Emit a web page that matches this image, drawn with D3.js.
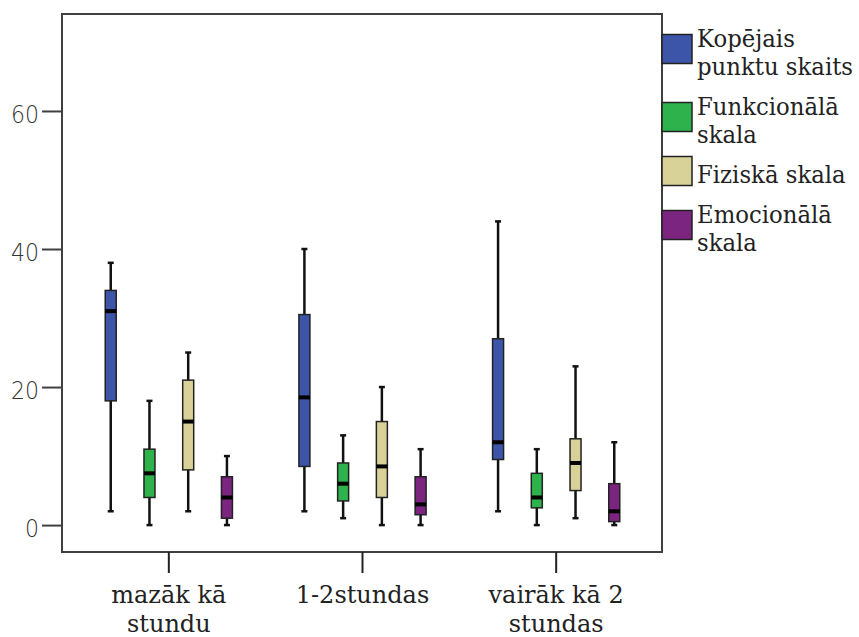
<!DOCTYPE html>
<html>
<head>
<meta charset="utf-8">
<script src="https://cdn.jsdelivr.net/npm/d3@7"></script>
<style>
  html, body { margin: 0; padding: 0; background: #fff; }
  svg { display: block; }
</style>
</head>
<body>
<div id="chart"></div>
<script>
// categories on the x axis (split into display lines)
const categories = ["mazāk kā stundu", "1-2stundas", "vairāk kā 2 stundas"];
const categoryLines = [["mazāk kā", "stundu"], ["1-2stundas"], ["vairāk kā 2", "stundas"]];

// series (legend)
const series = ["Kopējais punktu skaits", "Funkcionālā skala", "Fiziskā skala", "Emocionālā skala"];
const seriesLines = [["Kopējais", "punktu skaits"], ["Funkcionālā", "skala"], ["Fiziskā skala"], ["Emocionālā", "skala"]];
const seriesColors = ["#3c55a9", "#2eb34c", "#d8d198", "#7b2580"];

// box stats per category: [min, q1, median, q3, max]
const kopejais    = [[2, 18, 31, 34, 38], [2, 8.5, 18.5, 30.5, 40], [2, 9.5, 12, 27, 44]];
const funkcionala = [[0, 4, 7.5, 11, 18], [1, 3.5, 6, 9, 13], [0, 2.5, 4, 7.5, 11]];
const fiziska     = [[2, 8, 15, 21, 25], [0, 4, 8.5, 15, 20], [1, 5, 9, 12.5, 23]];
const emocionala  = [[0, 1, 4, 7, 10], [0, 1.5, 3, 7, 11], [0, 0.5, 2, 6, 12]];

const yTicks = [0, 20, 40, 60];

const seriesValues = [kopejais, funkcionala, fiziska, emocionala];

const W = 859, H = 637;
const frame = {left: 62, right: 662, top: 14, bottom: 552};
const serifFont = "'DejaVu Serif', 'Liberation Serif', serif";

const svg = d3.select("#chart").append("svg")
	.attr("width", W)
	.attr("height", H);

svg.append("rect").attr("width", W).attr("height", H).attr("fill", "#fff");

const y = d3.scaleLinear()
	.domain([-3.9, 74.05])
	.range([frame.bottom, frame.top]);

const x0 = d3.scaleBand()
	.domain(categories)
	.range([72, 653]);

const x1 = d3.scaleBand()
	.domain(series)
	.range([0, x0.bandwidth()])
	.paddingOuter(0.5);

const boxW = 11;
const capW = 6;

// frame
svg.append("rect")
	.attr("x", frame.left)
	.attr("y", frame.top)
	.attr("width", frame.right - frame.left)
	.attr("height", frame.bottom - frame.top)
	.attr("fill", "none")
	.attr("stroke", "#404040")
	.attr("stroke-width", 2);

// y axis
const yAxis = svg.append("g")
	.attr("transform", `translate(${frame.left},0)`)
	.call(d3.axisLeft(y).tickValues(yTicks).tickSize(20).tickPadding(3));
yAxis.select(".domain").remove();
yAxis.selectAll(".tick line").attr("stroke", "#404040").attr("stroke-width", 2);
yAxis.selectAll(".tick text")
	.attr("x", null)
	.attr("dy", "0.47em")
	.attr("transform", "translate(-23,0) scale(0.88,1)")
	.attr("fill", "#333")
	.style("font-family", "'DejaVu Sans', sans-serif")
	.style("font-size", "25px")
	.style("font-weight", "300");

// x axis
const xAxis = svg.append("g")
	.attr("transform", `translate(0,${frame.bottom})`)
	.call(d3.axisBottom(x0).tickSize(21).tickFormat(""));
xAxis.select(".domain").remove();
xAxis.selectAll(".tick line").attr("stroke", "#222").attr("stroke-width", 2);

const catLabel = svg.append("g").selectAll("text")
	.data(categories)
	.join("text")
	.attr("text-anchor", "middle")
	.attr("fill", "#222")
	.style("font-family", serifFont)
	.style("font-size", "24px");
catLabel.selectAll("tspan")
	.data((d, i) => categoryLines[i])
	.join("tspan")
	.attr("x", function() { return x0(d3.select(this.parentNode).datum()) + x0.bandwidth() / 2; })
	.attr("y", (d, i) => 603 + i * 29)
	.text(d => d);

// boxes
const boxData = [];
categories.forEach((c, ci) => {
	series.forEach((s, si) => {
		const v = seriesValues[si][ci];
		boxData.push({cat: c, ser: s, si, min: v[0], q1: v[1], med: v[2], q3: v[3], max: v[4]});
	});
});

const boxes = svg.append("g").selectAll("g")
	.data(boxData)
	.join("g")
	.attr("transform", d => `translate(${x0(d.cat) + x1(d.ser) + x1.bandwidth() / 2},0)`);

// whisker lines
boxes.append("line")
	.attr("y1", d => y(d.min))
	.attr("y2", d => y(d.max))
	.attr("stroke", "#111")
	.attr("stroke-width", 2.5);

// caps
boxes.selectAll(".cap")
	.data(d => [d.min, d.max])
	.join("line")
	.attr("class", "cap")
	.attr("x1", -capW / 2)
	.attr("x2", capW / 2)
	.attr("y1", d => y(d))
	.attr("y2", d => y(d))
	.attr("stroke", "#111")
	.attr("stroke-width", 2.5);

boxes.append("rect")
	.attr("x", -boxW / 2)
	.attr("width", boxW)
	.attr("y", d => y(d.q3))
	.attr("height", d => y(d.q1) - y(d.q3))
	.attr("fill", d => seriesColors[d.si])
	.attr("stroke", "#222")
	.attr("stroke-width", 1.5);

boxes.append("line")
	.attr("x1", -boxW / 2)
	.attr("x2", boxW / 2)
	.attr("y1", d => y(d.med))
	.attr("y2", d => y(d.med))
	.attr("stroke", "#000")
	.attr("stroke-width", 4);

// legend
const lineH = 28;
let base = 47;
const legendItems = seriesLines.map((lines, i) => {
	const item = {i, lines, base};
	base += lines.length * lineH + 12;
	return item;
});

const legend = svg.append("g").selectAll("g")
	.data(legendItems)
	.join("g");

legend.append("rect")
	.attr("x", frame.right)
	.attr("y", d => d.base + 14 * (d.lines.length - 1) - 12 - 14.5)
	.attr("width", 30)
	.attr("height", 29)
	.attr("fill", d => seriesColors[d.i])
	.attr("stroke", "#222")
	.attr("stroke-width", 1.5);

const legendText = legend.append("text")
	.attr("transform", "translate(697,0) scale(0.95,1)")
	.attr("fill", "#222")
	.style("font-family", serifFont)
	.style("font-size", "24px");
legendText.selectAll("tspan")
	.data(d => d.lines.map((t, k) => ({t, yy: d.base + k * lineH})))
	.join("tspan")
	.attr("x", 0)
	.attr("y", d => d.yy)
	.text(d => d.t);
</script>
</body>
</html>
